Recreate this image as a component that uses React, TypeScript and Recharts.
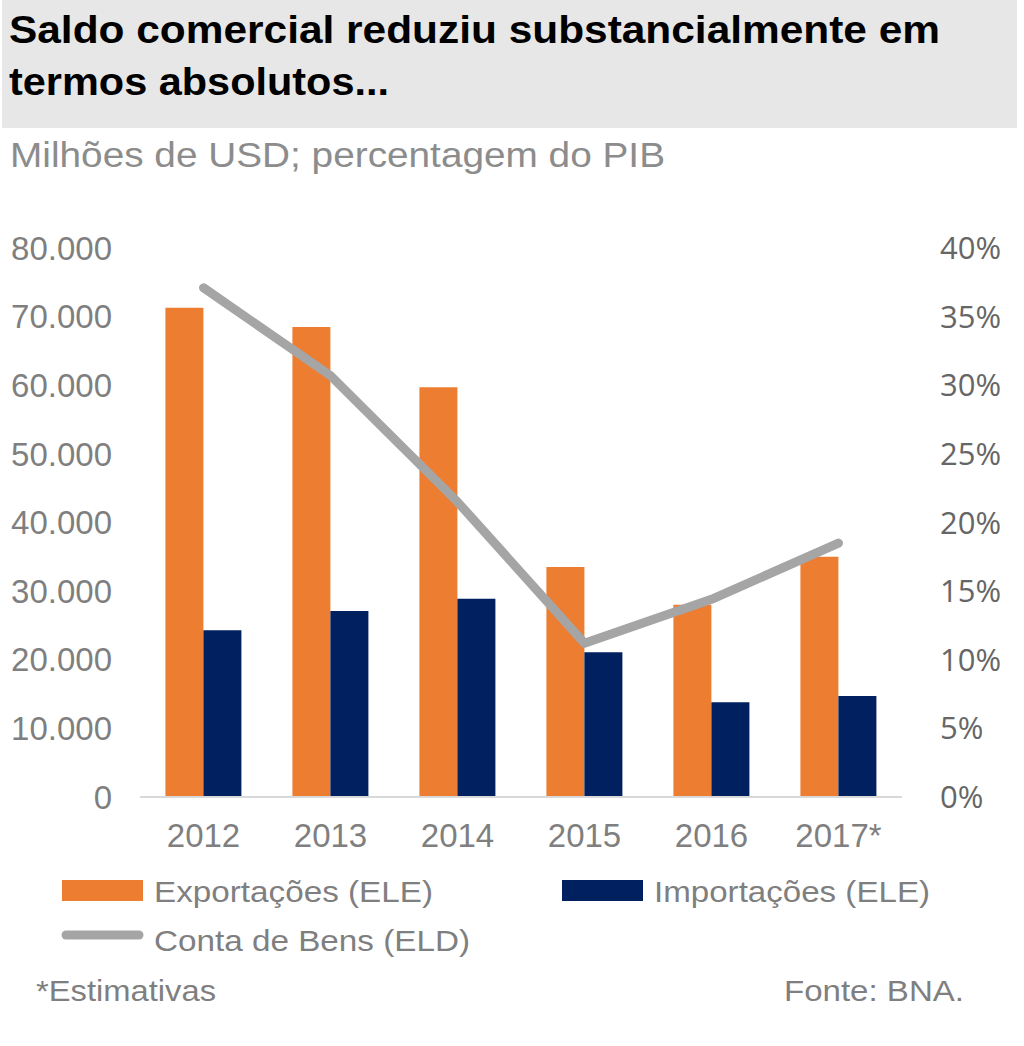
import React from 'react';
import { ComposedChart, Bar, Line, XAxis, YAxis } from 'recharts';

const years = ['2012', '2013', '2014', '2015', '2016', '2017*'];
const exportacoes = [71300, 68500, 59700, 33500, 28000, 35000];
const importacoes = [24300, 27100, 28900, 21100, 13800, 14700];
const contaBens = [37.1, 30.7, 21.5, 11.2, 14.4, 18.5];
const leftTicks = [0, 10000, 20000, 30000, 40000, 50000, 60000, 70000, 80000];
const rightTicks = [0, 5, 10, 15, 20, 25, 30, 35, 40];

const seriesNames = ['Exportações (ELE)', 'Importações (ELE)', 'Conta de Bens (ELD)'];
const colors = { exp: '#ed7d31', imp: '#002060', line: '#a5a5a5' };

const data = years.map((y, i) => ({
  year: y,
  exp: exportacoes[i],
  imp: importacoes[i],
  pct: contaBens[i],
}));

const fmtThousands = (v: number) =>
  v === 0 ? '0' : String(v).replace(/\B(?=(\d{3})+(?!\d))/g, '.');

const ARIAL = '"Liberation Sans", Arial, Helvetica, sans-serif';

export default function App() {
  return (
    <div style={{ position: 'absolute', left: 0, top: 0, width: 1024, height: 1046, background: '#ffffff', overflow: 'hidden' }}>
      <svg width={1024} height={1046} style={{ position: 'absolute', left: 0, top: 0 }}>
        <rect x={2} y={0} width={1015} height={128} fill="#e7e7e7" />
        <text x={9} y={43} fontFamily={ARIAL} fontWeight="bold" fontSize={39} fill="#000" textLength={931} lengthAdjust="spacingAndGlyphs">
          Saldo comercial reduziu substancialmente em
        </text>
        <text x={9} y={95} fontFamily={ARIAL} fontWeight="bold" fontSize={39} fill="#000" textLength={380} lengthAdjust="spacingAndGlyphs">
          termos absolutos...
        </text>
        <text x={10} y={167} fontFamily={ARIAL} fontSize={35} fill="#8c8c8c" textLength={655} lengthAdjust="spacingAndGlyphs">
          Milhões de USD; percentagem do PIB
        </text>

        {/* legend */}
        <rect x={62} y={880} width={81} height={21} fill={colors.exp} />
        <text x={154} y={902} fontFamily={ARIAL} fontSize={29} fill="#7f7f7f" textLength={279} lengthAdjust="spacingAndGlyphs">
          {seriesNames[0]}
        </text>
        <rect x={562} y={880} width={81} height={21} fill={colors.imp} />
        <text x={654} y={902} fontFamily={ARIAL} fontSize={29} fill="#7f7f7f" textLength={276} lengthAdjust="spacingAndGlyphs">
          {seriesNames[1]}
        </text>
        <line x1={66} y1={935} x2={139} y2={935} stroke={colors.line} strokeWidth={9} strokeLinecap="round" />
        <text x={154} y={951} fontFamily={ARIAL} fontSize={29} fill="#7f7f7f" textLength={316} lengthAdjust="spacingAndGlyphs">
          {seriesNames[2]}
        </text>

        <text x={36} y={1001} fontFamily={ARIAL} fontSize={29} fill="#7f7f7f" textLength={180} lengthAdjust="spacingAndGlyphs">
          *Estimativas
        </text>
        <text x={784} y={1001} fontFamily={ARIAL} fontSize={29} fill="#7f7f7f" textLength={180} lengthAdjust="spacingAndGlyphs">
          Fonte: BNA.
        </text>
      </svg>

      <div style={{ position: 'absolute', left: 0, top: 0 }}>
        <ComposedChart
          width={1024}
          height={1046}
          data={data}
          margin={{ top: 248, right: 0, bottom: 189, left: 0 }}
          barGap={0}
          barCategoryGap="20%"
        >
          <XAxis
            dataKey="year"
            height={60}
            axisLine={{ stroke: '#d9d9d9', strokeWidth: 2 }}
            tickLine={false}
            tickSize={0}
            tickMargin={27}
            interval={0}
            tick={{ fill: '#7f7f7f', fontSize: 33, fontFamily: ARIAL }}
          />
          <YAxis
            yAxisId="left"
            orientation="left"
            width={140}
            domain={[0, 80000]}
            ticks={leftTicks}
            tickFormatter={fmtThousands}
            axisLine={false}
            tickLine={false}
            tickSize={0}
            tickMargin={28}
            interval={0}
            tick={{ fill: '#7f7f7f', fontSize: 33, fontFamily: ARIAL }}
          />
          <YAxis
            yAxisId="right"
            orientation="right"
            width={122}
            domain={[0, 40]}
            ticks={rightTicks}
            tickFormatter={(v: number) => `${v}%`}
            axisLine={false}
            tickLine={false}
            tickSize={0}
            tickMargin={38}
            interval={0}
            tick={{ fill: '#666666', fontSize: 31, fontFamily: '"Open Sans", sans-serif' }}
          />
          <Bar yAxisId="left" dataKey="exp" name={seriesNames[0]} fill={colors.exp} isAnimationActive={false} />
          <Bar yAxisId="left" dataKey="imp" name={seriesNames[1]} fill={colors.imp} isAnimationActive={false} />
          <Line
            yAxisId="right"
            type="linear"
            dataKey="pct"
            name={seriesNames[2]}
            stroke={colors.line}
            strokeWidth={9}
            strokeLinecap="round"
            strokeLinejoin="round"
            dot={false}
            activeDot={false}
            isAnimationActive={false}
          />
        </ComposedChart>
      </div>
    </div>
  );
}
